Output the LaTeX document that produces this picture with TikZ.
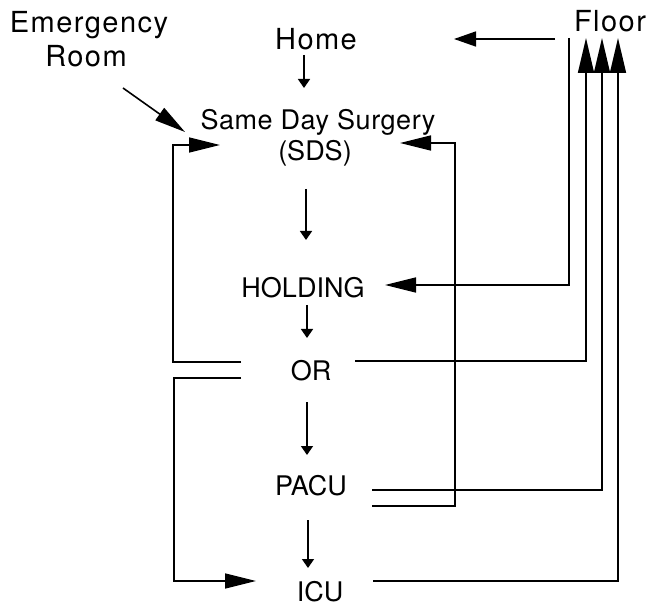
\documentclass[tikz,border=0pt]{standalone}
\usepackage{fontspec}
\setmainfont{TeX Gyre Heros}
\newfontfamily\widefont[LetterSpace=5]{TeX Gyre Heros}
\newfontfamily\midfont[LetterSpace=2]{TeX Gyre Heros}
\usetikzlibrary{arrows.meta}
\tikzset{
  lbl/.style={anchor=base, inner sep=0pt, font=\fontsize{27}{32}\selectfont},
  mlbl/.style={anchor=base, inner sep=0pt, font=\fontsize{27}{32}\midfont},
  wlbl/.style={anchor=base, inner sep=0pt, font=\fontsize{29}{34}\widefont},
  ln/.style={line width=1.6pt},
  bigarrow/.style={ln, -{Triangle[length=31pt,width=15pt]}},
  uparrow/.style={ln, -{Triangle[length=35pt,width=16pt]}},
  homearrow/.style={ln, -{Triangle[length=22pt,width=15pt]}},
  smallarrow/.style={ln, -{Triangle[length=9pt,width=12pt]}},
}
\begin{document}
\begin{tikzpicture}[x=1pt,y=-1pt]
\useasboundingbox (0,0) rectangle (649,607);
% labels
\node[wlbl] (er)    at (89,33)  {Emergency};
\node[wlbl] (room)  at (86,67)  {Room};
\node[wlbl] (home)  at (316,50) {Home};
\node[wlbl] (floor) at (610,32) {Floor};
\node[mlbl] (sds)   at (318,130) {Same Day Surgery};
\node[lbl]  (sdsab) at (315,161) {(SDS)};
\node[lbl]  (hold)  at (303,298) {HOLDING};
\node[lbl]  (or)    at (311,381) {OR};
\node[lbl]  (pacu)  at (311,495) {PACU};
\node[lbl]  (icu)   at (320,601) {ICU};
% named connector ends
\coordinate (erS) at (123,88);   \coordinate (erT) at (185,132);
\coordinate (hS) at (304,55);    \coordinate (hT) at (304,88);
\coordinate (sS) at (306,189);   \coordinate (sT) at (306,240);
\coordinate (hoS) at (307,305);  \coordinate (hoT) at (307,338);
\coordinate (oS) at (307,402);   \coordinate (oT) at (307,455);
\coordinate (pS) at (308,520);   \coordinate (pT) at (308,568);
\coordinate (flHomeS) at (555,39); \coordinate (flHomeT) at (454,39);
\coordinate (flHoldS) at (569,38); \coordinate (flHoldT) at (385,285);
\coordinate (orR) at (355,361);  \coordinate (flA) at (586,38);
\coordinate (pacuR1) at (372,490); \coordinate (flB) at (602,38);
\coordinate (icuR) at (373,581); \coordinate (flC) at (618,38);
\coordinate (pacuR2) at (372,506); \coordinate (sdsR) at (400,143);
\coordinate (orL1) at (241,362); \coordinate (sdsL) at (220,145);
\coordinate (orL2) at (241,378); \coordinate (icuL) at (256,581);
% main flow
\draw[bigarrow] (erS) -- (erT);
\draw[smallarrow] (hS) -- (hT);
\draw[smallarrow] (sS) -- (sT);
\draw[smallarrow] (hoS) -- (hoT);
\draw[smallarrow] (oS) -- (oT);
\draw[smallarrow] (pS) -- (pT);
% floor connections
\draw[homearrow] (flHomeS) -- (flHomeT);
\draw[bigarrow] (flHoldS) |- (flHoldT);
\draw[uparrow] (orR) -| (flA);
\draw[uparrow] (pacuR1) -| (flB);
\draw[uparrow] (icuR) -| (flC);
% loops
\draw[bigarrow] (pacuR2) -- (455,506) -- (455,143) -- (sdsR);
\draw[bigarrow] (orL1) -- (173,362) -- (173,145) -- (sdsL);
\draw[bigarrow] (orL2) -- (174,378) -- (174,581) -- (icuL);
\end{tikzpicture}
\end{document}
